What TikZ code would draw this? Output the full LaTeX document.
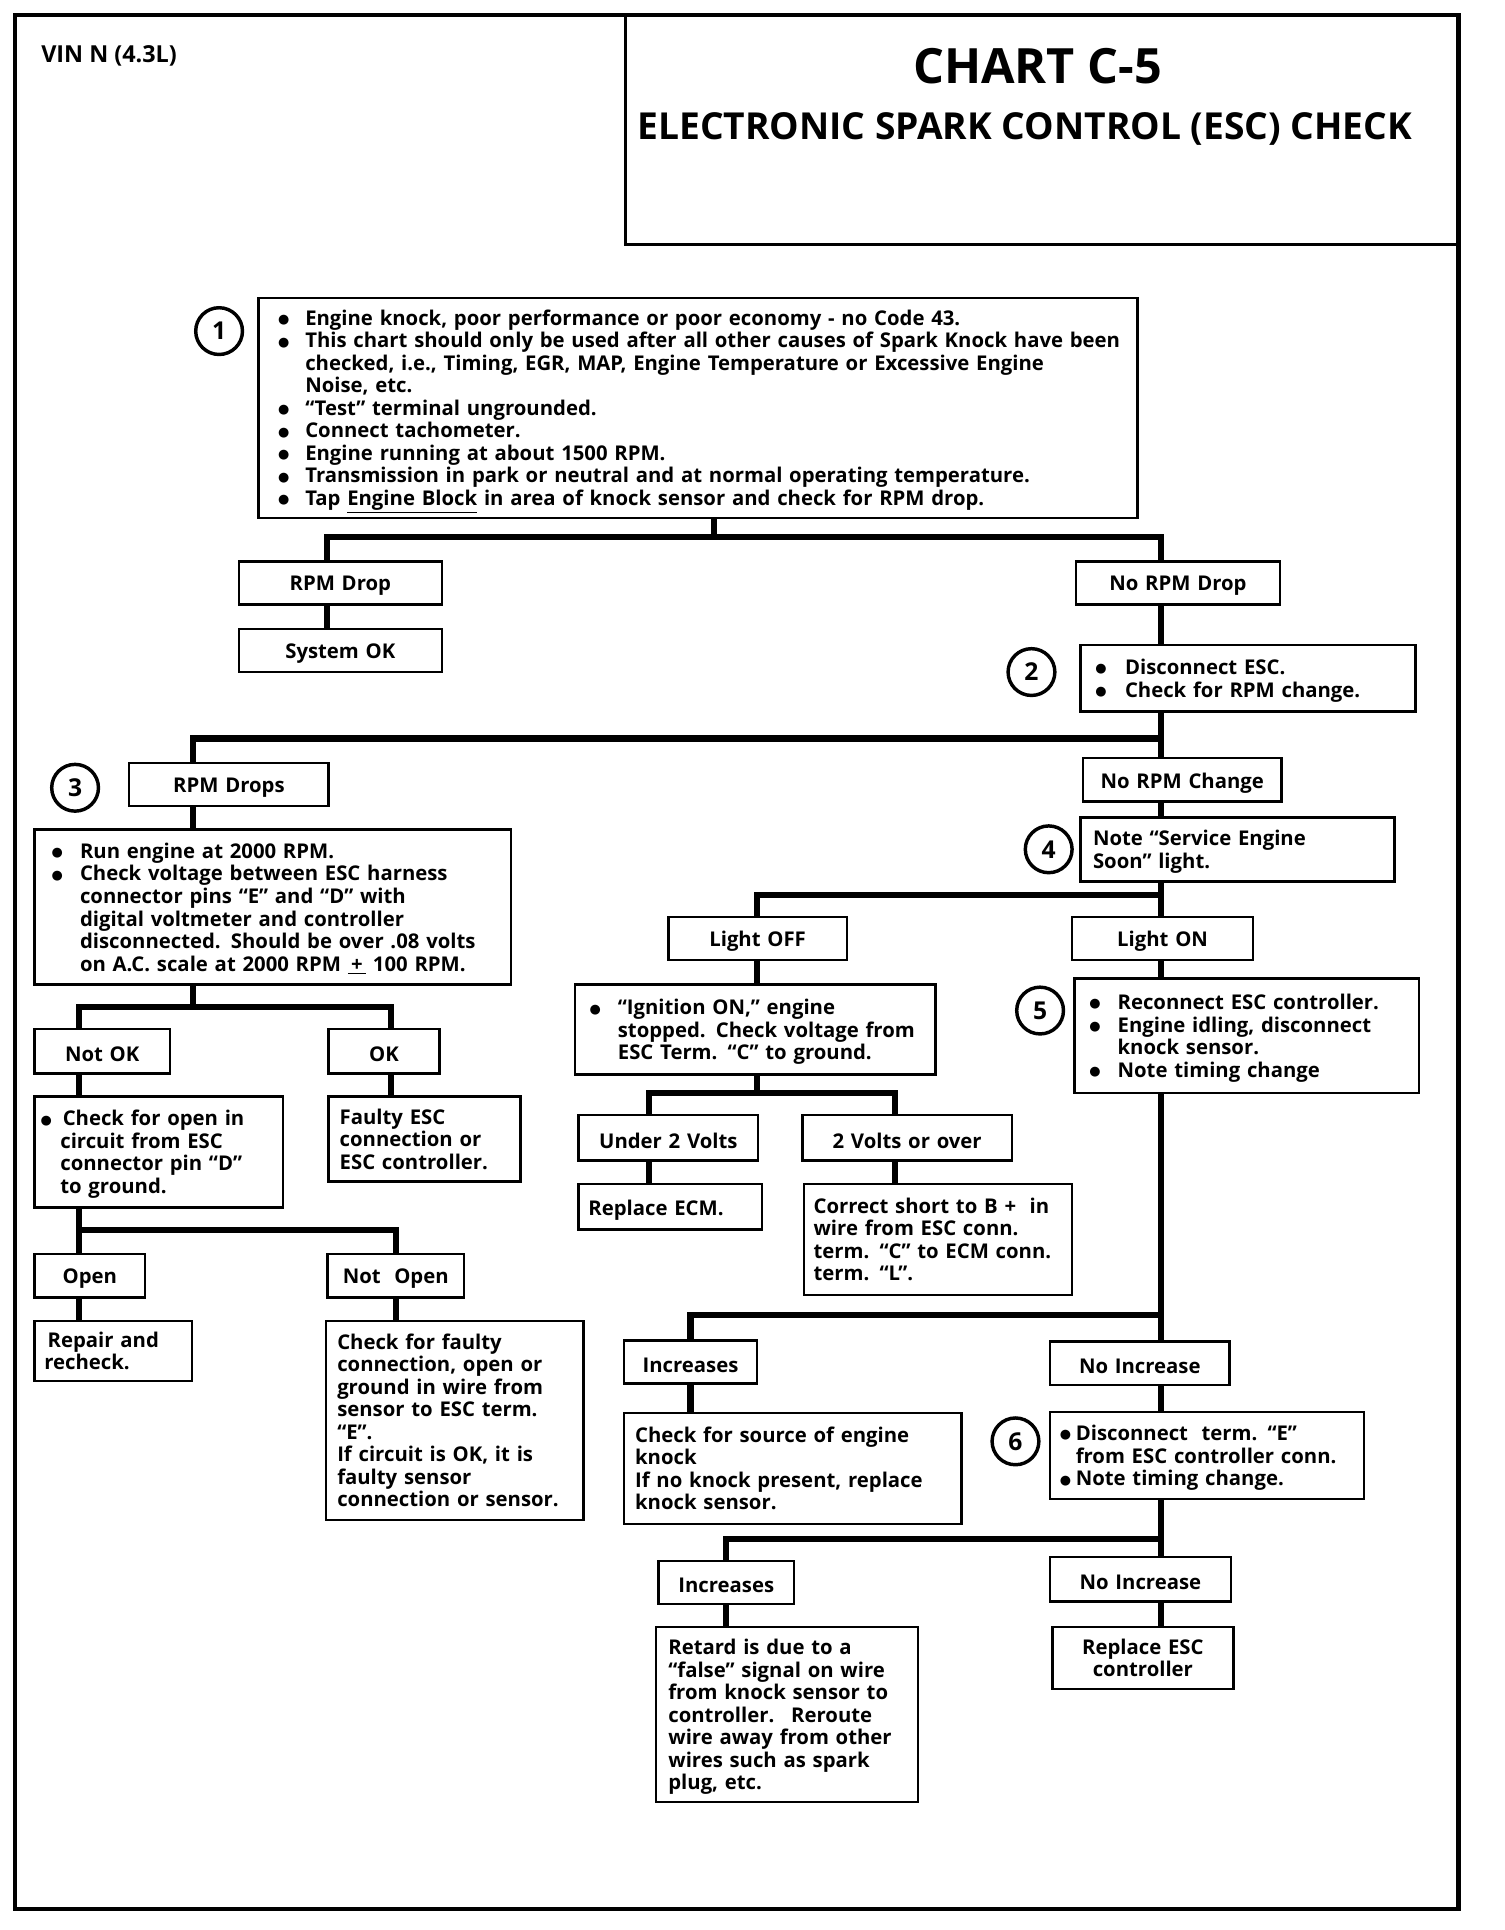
\documentclass[tikz,border=0pt]{standalone}
\usepackage{fontspec}
\setmainfont{Open Sans}
\newfontfamily\symfont{DejaVu Sans}
\newcommand\bodyfont{\fontsize{16.5}{18.3}\selectfont\bfseries}
\newcommand\bigdot{\raisebox{1.3pt}{\symfont\fontsize{10.5}{10.5}\selectfont ●}}
\newcommand\bul[1][22pt]{\makebox[#1][l]{\bigdot}}
\newcommand\cont[1][22pt]{\hspace*{#1}}
\newcommand\txtL[1]{\begin{tabular}{@{}l@{}}#1\end{tabular}}
\newcommand\txtC[1]{\begin{tabular}{@{}c@{}}#1\end{tabular}}
\newcommand\flowbox[8]{%
  \pgfmathsetmacro\fbw{#4-#2}%
  \pgfmathsetmacro\fbh{#5-#3}%
  \pgfmathsetmacro\fbx{(#2+#4)/2}%
  \pgfmathsetmacro\fby{(#3+#5)/2}%
  \pgfmathsetmacro\fbt{#4-#2-2*#6}%
  \node[box, minimum width=\fbw pt, minimum height=\fbh pt, text width=\fbt pt,
        inner xsep=#6 pt, align=#7] (#1) at (\fbx,\fby) {\raisebox{-2.5pt}[\height][\depth]{#8}};}
\tikzset{
  box/.style={draw, line width=2pt, inner ysep=0pt, font=\bodyfont},
  circ/.style={circle, draw, line width=2.8pt, minimum size=38pt, inner sep=0pt,
               font=\fontsize{20}{21}\selectfont\bfseries},
  conn/.style={line width=5pt},
}
\begin{document}
\begin{tikzpicture}[x=1pt,y=-1pt]
\useasboundingbox (0,0) rectangle (1222,1568);
\fill[white] (0,0) rectangle (1222,1568);
% frame
\draw[line width=3.5pt] (12,12) rectangle (1185,1551);
\draw[line width=2.5pt] (508,12) -- (508,199) -- (1185,199);
\node[anchor=base west, font=\fontsize{19}{21}\selectfont\bfseries] (vin) at (30,51) {VIN N (4.3L)};
\node[anchor=base, font=\fontsize{39.5}{44}\selectfont\bfseries] (chart) at (843,68) {CHART C-5};
\node[anchor=base, font=\fontsize{30.2}{32}\selectfont\bfseries] (sub) at (832.5,113) {ELECTRONIC SPARK CONTROL (ESC) CHECK};

% boxes
\flowbox{b1}{210}{242}{924}{421}{16}{left}{\txtL{%
\bul Engine knock, poor performance or poor economy - no Code 43.\\
\bul This chart should only be used after all other causes of Spark Knock have been\\
\cont checked, i.e., Timing, EGR, MAP, Engine Temperature or Excessive Engine\\
\cont Noise, etc.\\
\bul “Test” terminal ungrounded.\\
\bul Connect tachometer.\\
\bul Engine running at about 1500 RPM.\\
\bul Transmission in park or neutral and at normal operating temperature.\\
\bul Tap \underline{Engine Block} in area of knock sensor and check for RPM drop.}}
\flowbox{rd}{194}{456}{359}{491}{4}{center}{RPM Drop}
\flowbox{sok}{194}{511}{359}{546}{4}{center}{System OK}
\flowbox{nrd}{874}{456}{1040}{491}{4}{center}{No RPM Drop}
\flowbox{b2}{878}{524}{1150}{578}{12}{left}{\txtL{%
\bul[24pt]Disconnect ESC.\\
\bul[24pt]Check for RPM change.}}
\flowbox{rds}{105}{620}{267}{655}{4}{center}{RPM Drops}
\flowbox{nrc}{880}{616}{1041}{651}{4}{center}{No RPM Change}
\flowbox{b4}{878}{664}{1133}{716}{10}{left}{\txtL{%
Note “Service Engine\\
Soon” light.}}
\flowbox{b3}{28}{674}{415}{800}{14}{left}{\txtL{%
\bul[23pt]Run engine at 2000 RPM.\\
\bul[23pt]Check voltage between ESC harness\\
\cont[23pt]connector pins “E” and “D” with\\
\cont[23pt]digital voltmeter and controller\\
\cont[23pt]disconnected. Should be over .08 volts\\
\cont[23pt]on A.C. scale at 2000 RPM \underline{\,+\,} 100 RPM.}}
\flowbox{notok}{28}{836}{138}{872}{4}{center}{Not OK}
\flowbox{ok}{267}{836}{357}{872}{4}{center}{OK}
\flowbox{cfo}{28}{891}{230}{981}{5}{left}{\txtL{%
\bul[18pt]Check for open in\\
\cont[16pt]circuit from ESC\\
\cont[16pt]connector pin “D”\\
\cont[16pt]to ground.}}
\flowbox{fesc}{267}{891}{423}{960}{9}{left}{\txtL{%
Faulty ESC\\
connection or\\
ESC controller.}}
\flowbox{open}{28}{1019}{118}{1054}{4}{center}{Open}
\flowbox{nopen}{266}{1019}{377}{1054}{4}{center}{Not~ Open}
\flowbox{rep}{28}{1073}{156}{1122}{8}{left}{\txtL{%
\,Repair and\\
recheck.}}
\flowbox{cff}{265}{1073}{474}{1235}{9}{left}{\txtL{%
Check for faulty\\
connection, open or\\
ground in wire from\\
sensor to ESC term.\\
“E”.\\
If circuit is OK, it is\\
faulty sensor\\
connection or sensor.}}
\flowbox{loff}{543}{745}{688}{780}{4}{center}{Light OFF}
\flowbox{lon}{871}{745}{1018}{780}{4}{center}{Light ON}
\flowbox{ign}{467}{800}{760}{873}{12}{left}{\txtL{%
\bul[23pt]“Ignition ON,” engine\\
\cont[23pt]stopped. Check voltage from\\
\cont[23pt]ESC Term. “C” to ground.}}
\flowbox{b5}{873}{795}{1153}{888}{12}{left}{\txtL{%
\bul[23pt]Reconnect ESC controller.\\
\bul[23pt]Engine idling, disconnect\\
\cont[23pt]knock sensor.\\
\bul[23pt]Note timing change}}
\flowbox{u2}{470}{906}{616}{943}{4}{center}{Under 2 Volts}
\flowbox{o2}{652}{906}{822}{943}{4}{center}{2 Volts or over}
\flowbox{recm}{470}{962}{619}{999}{8}{left}{Replace ECM.}
\flowbox{cs}{653}{962}{871}{1052}{8}{left}{\txtL{%
Correct short to B +~ in\\
wire from ESC conn.\\
term. “C” to ECM conn.\\
term. “L”.}}
\flowbox{inc1}{507}{1089}{615}{1124}{4}{center}{Increases}
\flowbox{ninc1}{853}{1090}{999}{1125}{4}{center}{No Increase}
\flowbox{csrc}{507}{1148}{781}{1238}{9}{left}{\txtL{%
Check for source of engine\\
knock\\
If no knock present, replace\\
knock sensor.}}
\flowbox{b6}{853}{1147}{1108}{1218}{8}{left}{\txtL{%
\bul[13pt]Disconnect~ term. “E”\\
\cont[13pt]from ESC controller conn.\\
\bul[13pt]Note timing change.}}
\flowbox{inc2}{535}{1268}{645}{1303}{4}{center}{Increases}
\flowbox{ninc2}{853}{1265}{1000}{1301}{4}{center}{No Increase}
\flowbox{ret}{533}{1322}{746}{1464}{10}{left}{\txtL{%
Retard is due to a\\
“false” signal on wire\\
from knock sensor to\\
controller.~ Reroute\\
wire away from other\\
wires such as spark\\
plug, etc.}}
\flowbox{resc}{855}{1322}{1002}{1372}{4}{center}{\txtC{Replace ESC\\controller}}

% step circles
\node[circ] (c1) at (178,269) {1};
\node[circ] (c2) at (838,546) {2};
\node[circ] (c3) at (61,640) {3};
\node[circ] (c4) at (852,690) {4};
\node[circ] (c5) at (845,821) {5};
\node[circ] (c6) at (825,1171) {6};

% junction coordinates
\coordinate (j1) at (580,436);
\coordinate (h1L) at (266,436);
\coordinate (h1R) at (943,436);
\coordinate (h2L) at (157,600);
\coordinate (h2R) at (943,600);
\coordinate (h3M) at (157,818);
\coordinate (h3L) at (64,818);
\coordinate (h3R) at (318,818);
\coordinate (h4L) at (64,999);
\coordinate (h4R) at (322,999);
\coordinate (h5L) at (615,727);
\coordinate (h5R) at (943,727);
\coordinate (h6M) at (615,888);
\coordinate (h6L) at (527,888);
\coordinate (h6R) at (727,888);
\coordinate (h7L) at (561,1068);
\coordinate (h7R) at (943,1068);
\coordinate (h8L) at (590,1250);
\coordinate (h8R) at (943,1250);

% connectors
\draw[conn] (b1.south -| j1) -- (j1);
\draw[conn] (rd.north -| h1L) -- (h1L) -- (h1R) -- (nrd.north -| h1R);
\draw[conn] (rd.south -| h1L) -- (sok.north -| h1L);
\draw[conn] (nrd.south -| h2R) -- (b2.north -| h2R);
\draw[conn] (b2.south -| h2R) -- (nrc.north -| h2R);
\draw[conn] (rds.north -| h2L) -- (h2L) -- (h2R);
\draw[conn] (rds.south -| h2L) -- (b3.north -| h2L);
\draw[conn] (b3.south -| h3M) -- (h3M);
\draw[conn] (notok.north -| h3L) -- (h3L) -- (h3R) -- (ok.north -| h3R);
\draw[conn] (notok.south -| h3L) -- (cfo.north -| h3L);
\draw[conn] (ok.south -| h3R) -- (fesc.north -| h3R);
\draw[conn] (cfo.south -| h4L) -- (open.north -| h4L);
\draw[conn] (h4L) -- (h4R) -- (nopen.north -| h4R);
\draw[conn] (open.south -| h4L) -- (rep.north -| h4L);
\draw[conn] (nopen.south -| h4R) -- (cff.north -| h4R);
\draw[conn] (nrc.south -| h5R) -- (b4.north -| h5R);
\draw[conn] (b4.south -| h5R) -- (lon.north -| h5R);
\draw[conn] (h5R) -- (h5L) -- (loff.north -| h5L);
\draw[conn] (loff.south -| h5L) -- (ign.north -| h5L);
\draw[conn] (ign.south -| h6M) -- (h6M);
\draw[conn] (u2.north -| h6L) -- (h6L) -- (h6R) -- (o2.north -| h6R);
\draw[conn] (u2.south -| h6L) -- (recm.north -| h6L);
\draw[conn] (o2.south -| h6R) -- (cs.north -| h6R);
\draw[conn] (lon.south -| h7R) -- (b5.north -| h7R);
\draw[conn] (b5.south -| h7R) -- (ninc1.north -| h7R);
\draw[conn] (h7R) -- (h7L) -- (inc1.north -| h7L);
\draw[conn] (inc1.south -| h7L) -- (csrc.north -| h7L);
\draw[conn] (ninc1.south -| h7R) -- (b6.north -| h7R);
\draw[conn] (b6.south -| h8R) -- (ninc2.north -| h8R);
\draw[conn] (h8R) -- (h8L) -- (inc2.north -| h8L);
\draw[conn] (inc2.south -| h8L) -- (ret.north -| h8L);
\draw[conn] (ninc2.south -| h8R) -- (resc.north -| h8R);
\end{tikzpicture}
\end{document}
